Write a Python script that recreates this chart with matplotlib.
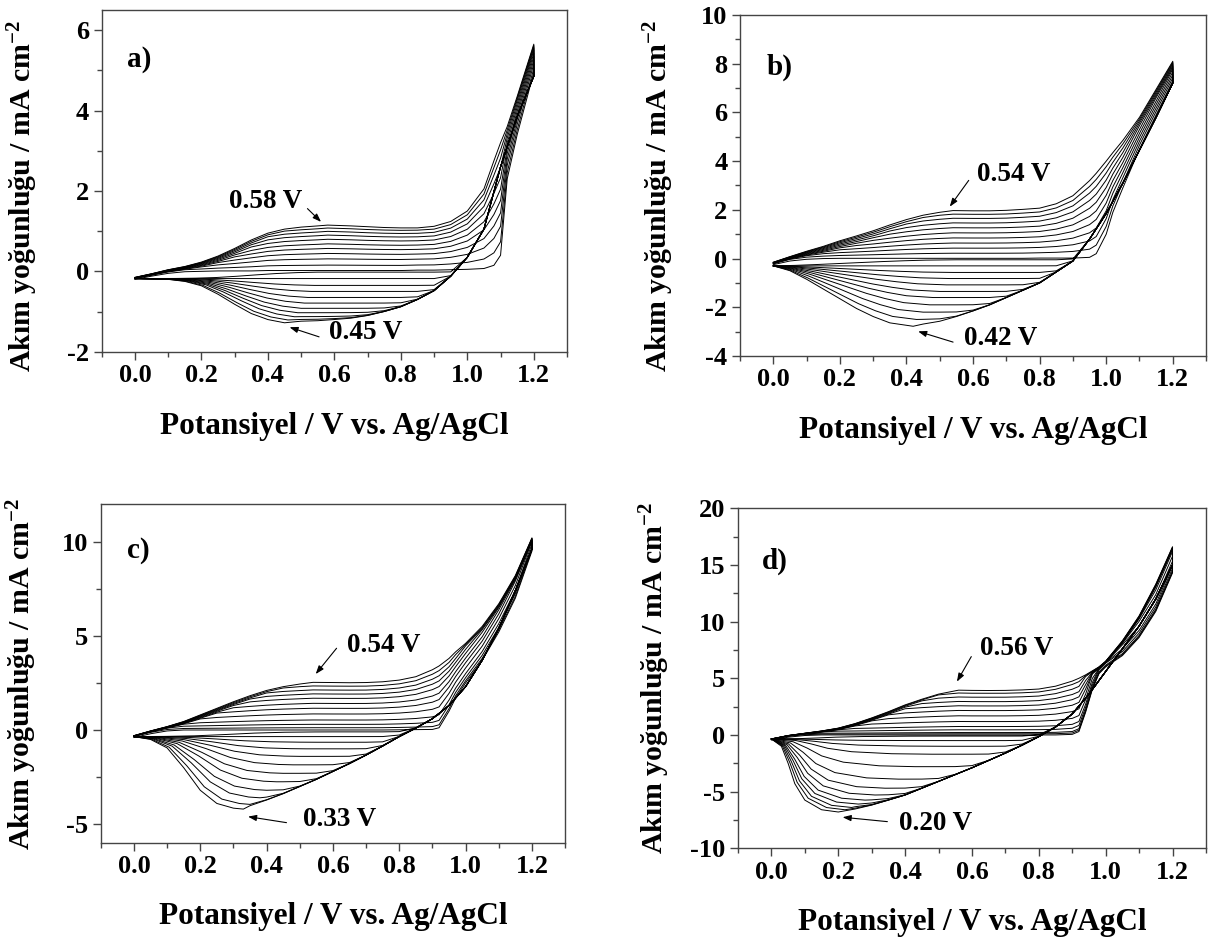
import numpy as np
import matplotlib
matplotlib.use("Agg")
import matplotlib.pyplot as plt
from matplotlib.ticker import MultipleLocator, FormatStrFormatter

plt.rcParams['font.family'] = ['Liberation Serif', 'DejaVu Serif']
plt.rcParams['font.weight'] = 'bold'
plt.rcParams['axes.unicode_minus'] = False
plt.rcParams['mathtext.fontset'] = 'custom'
plt.rcParams['mathtext.rm'] = 'Liberation Serif:bold'
plt.rcParams['mathtext.default'] = 'rm'

# ---- a) ----
# outer anodic sweep, first anodic sweep (same potentials)
e_fwd_a = [0.00, 0.05, 0.10, 0.15, 0.20, 0.25, 0.30, 0.35, 0.40, 0.45, 0.50, 0.55, 0.58, 0.65,
           0.70, 0.75, 0.80, 0.85, 0.90, 0.95, 1.00, 1.05, 1.08, 1.10, 1.12, 1.15, 1.20]
i_fwd_a = [-0.15, -0.06, 0.04, 0.12, 0.23, 0.38, 0.57, 0.78, 0.95, 1.05, 1.10, 1.13, 1.15, 1.13,
           1.11, 1.09, 1.08, 1.08, 1.12, 1.24, 1.50, 2.05, 2.75, 3.20, 3.60, 4.35, 5.65]
i_fwd0_a = [-0.20, -0.12, -0.05, -0.01, 0.00, 0.01, 0.01, 0.01, 0.02, 0.02, 0.02, 0.02, 0.02, 0.02,
            0.02, 0.02, 0.02, 0.03, 0.03, 0.04, 0.05, 0.07, 0.15, 0.40, 2.30, 3.40, 4.95]
# outer cathodic sweep
e_rev_a = [1.20, 1.15, 1.10, 1.05, 1.00, 0.95, 0.90, 0.85, 0.80, 0.75, 0.70, 0.65, 0.60,
           0.55, 0.50, 0.45, 0.40, 0.35, 0.30, 0.25, 0.20, 0.15, 0.10, 0.05, 0.00]
i_rev_a = [4.85, 3.85, 2.60, 1.05, 0.35, -0.12, -0.48, -0.70, -0.88, -1.00, -1.10, -1.17, -1.21,
           -1.25, -1.27, -1.28, -1.20, -1.05, -0.82, -0.57, -0.36, -0.25, -0.20, -0.19, -0.18]
# per scan: plateau current near 0.7 V, cathodic peak current and potential
ox_a = [0.02, 0.15, 0.30, 0.43, 0.55, 0.66, 0.77, 0.87, 0.96, 1.04, 1.11]
red_a = [-0.02, -0.18, -0.35, -0.50, -0.65, -0.79, -0.92, -1.03, -1.13, -1.21, -1.28]
red_e_a = [0.55, 0.55, 0.54, 0.53, 0.52, 0.51, 0.50, 0.49, 0.48, 0.46, 0.45]
ox_peak_a = 0.58

# ---- b) ----
e_fwd_b = [0.00, 0.05, 0.10, 0.15, 0.20, 0.25, 0.30, 0.35, 0.40, 0.45, 0.50, 0.54, 0.60, 0.65,
           0.70, 0.75, 0.80, 0.85, 0.90, 0.95, 0.97, 1.00, 1.02, 1.05, 1.10, 1.15, 1.20]
i_fwd_b = [-0.15, 0.08, 0.30, 0.50, 0.73, 0.93, 1.14, 1.38, 1.60, 1.78, 1.90, 1.97, 1.96, 1.96,
           1.98, 2.02, 2.07, 2.25, 2.58, 3.20, 3.50, 4.00, 4.35, 4.85, 5.80, 6.95, 8.10]
i_fwd0_b = [-0.25, -0.10, -0.03, 0.00, 0.01, 0.01, 0.01, 0.01, 0.01, 0.01, 0.01, 0.01, 0.01, 0.01,
            0.01, 0.01, 0.02, 0.02, 0.02, 0.05, 0.20, 1.00, 1.90, 2.90, 4.50, 5.90, 7.30]
e_rev_b = [1.20, 1.15, 1.10, 1.05, 1.00, 0.95, 0.90, 0.85, 0.80, 0.75, 0.70, 0.65, 0.60,
           0.55, 0.50, 0.45, 0.42, 0.35, 0.30, 0.25, 0.20, 0.15, 0.10, 0.05, 0.00]
i_rev_b = [7.20, 5.80, 4.45, 3.10, 1.85, 0.80, -0.10, -0.55, -1.00, -1.30, -1.60, -1.90, -2.15,
           -2.38, -2.58, -2.72, -2.78, -2.64, -2.38, -2.05, -1.65, -1.25, -0.85, -0.50, -0.30]
ox_b = [0.01, 0.22, 0.43, 0.64, 0.85, 1.06, 1.27, 1.47, 1.66, 1.83, 1.98]
red_b = [-0.05, -0.30, -0.57, -0.82, -1.08, -1.35, -1.60, -1.90, -2.20, -2.50, -2.78]
red_e_b = [0.55, 0.55, 0.54, 0.53, 0.52, 0.50, 0.48, 0.47, 0.45, 0.43, 0.42]
ox_peak_b = 0.54

# ---- c) ----
e_fwd_c = [0.00, 0.05, 0.10, 0.15, 0.20, 0.25, 0.30, 0.35, 0.40, 0.45, 0.50, 0.54, 0.60, 0.65,
           0.70, 0.75, 0.80, 0.85, 0.90, 0.92, 0.95, 0.97, 1.00, 1.05, 1.10, 1.15, 1.20]
i_fwd_c = [-0.30, -0.05, 0.18, 0.45, 0.80, 1.15, 1.50, 1.82, 2.10, 2.30, 2.44, 2.53, 2.52, 2.51,
           2.52, 2.56, 2.65, 2.83, 3.20, 3.40, 3.80, 4.15, 4.60, 5.50, 6.70, 8.20, 10.20]
i_fwd0_c = [-0.40, -0.20, -0.05, 0.00, 0.00, 0.00, 0.00, 0.00, 0.00, 0.00, 0.00, 0.00, 0.00, 0.00,
            0.00, 0.00, 0.01, 0.02, 0.03, 0.12, 1.00, 1.70, 2.50, 3.70, 5.20, 7.00, 9.50]
e_rev_c = [1.20, 1.15, 1.10, 1.05, 1.00, 0.95, 0.90, 0.85, 0.80, 0.75, 0.70, 0.65, 0.60,
           0.55, 0.50, 0.45, 0.40, 0.35, 0.33, 0.30, 0.25, 0.20, 0.15, 0.10, 0.05, 0.00]
i_rev_c = [9.60, 7.40, 5.40, 3.70, 2.30, 1.30, 0.60, 0.10, -0.35, -0.85, -1.33, -1.78, -2.20,
           -2.62, -3.00, -3.38, -3.72, -4.05, -4.20, -4.15, -3.90, -3.20, -2.00, -0.95, -0.50, -0.35]
ox_c = [0.00, 0.12, 0.30, 0.53, 0.85, 1.15, 1.41, 1.68, 1.91, 2.12, 2.33, 2.52]
red_c = [-0.10, -0.35, -0.65, -1.00, -1.40, -1.85, -2.30, -2.75, -3.20, -3.60, -3.95, -4.20]
red_e_c = [0.60, 0.58, 0.55, 0.52, 0.50, 0.48, 0.45, 0.43, 0.40, 0.38, 0.35, 0.33]
ox_peak_c = 0.54

# ---- d) ----
e_fwd_d = [0.00, 0.05, 0.10, 0.15, 0.20, 0.25, 0.30, 0.35, 0.40, 0.45, 0.50, 0.56, 0.60, 0.65,
           0.70, 0.75, 0.80, 0.85, 0.90, 0.92, 0.94, 0.96, 0.98, 1.00, 1.05, 1.10, 1.15, 1.20]
i_fwd_d = [-0.35, -0.05, 0.15, 0.35, 0.60, 1.00, 1.50, 2.05, 2.65, 3.15, 3.60, 3.95, 3.93, 3.92,
           3.93, 3.97, 4.05, 4.30, 4.75, 5.00, 5.30, 5.65, 6.00, 6.50, 8.30, 10.50, 13.30, 16.60]
i_fwd0_d = [-0.45, -0.20, -0.05, 0.00, 0.00, 0.00, 0.00, 0.00, 0.00, 0.00, 0.00, 0.00, 0.00, 0.00,
            0.00, 0.00, 0.00, 0.00, 0.05, 0.30, 2.00, 4.00, 5.40, 6.00, 7.00, 8.60, 10.90, 14.30]
e_rev_d = [1.20, 1.15, 1.10, 1.05, 1.00, 0.95, 0.90, 0.85, 0.80, 0.75, 0.70, 0.65, 0.60, 0.55,
           0.50, 0.45, 0.40, 0.35, 0.30, 0.25, 0.20, 0.15, 0.10, 0.07, 0.05, 0.03, 0.00]
i_rev_d = [15.00, 12.00, 9.60, 7.60, 5.60, 3.60, 1.85, 0.70, -0.15, -0.90, -1.60, -2.25, -2.90, -3.50,
           -4.10, -4.70, -5.30, -5.75, -6.20, -6.60, -6.80, -6.60, -5.75, -4.30, -2.50, -1.00, -0.35]
ox_d = [0.00, 0.10, 0.21, 0.45, 0.74, 1.18, 1.68, 2.15, 2.56, 2.94, 3.33, 3.68, 3.93]
red_d = [-0.10, -0.50, -1.00, -1.70, -2.80, -3.90, -4.70, -5.30, -5.75, -6.10, -6.40, -6.60, -6.80]
red_e_d = [0.55, 0.55, 0.52, 0.48, 0.43, 0.38, 0.34, 0.31, 0.28, 0.26, 0.24, 0.22, 0.20]
ox_peak_d = 0.56

x_ticks = [0.0, 0.2, 0.4, 0.6, 0.8, 1.0, 1.2]


def scan_loop(p, k):
    """Closed loop of scan k: anodic sweep 0 -> 1.2 V, then cathodic back to 0 V."""
    e_f = np.array(p['e_fwd'])
    i_last = np.array(p['i_fwd'])
    i_first = np.array(p['i_fwd0'])
    ox = p['ox']
    diff = np.clip(i_last - i_first, 0, None)
    span = ox[-1] - ox[0]
    gain = ox[k] - ox[0]
    fan = diff * gain / span
    follow = np.where(diff <= span, np.minimum(diff, gain), fan)
    y_f = i_first + (1 - p['alpha']) * fan + p['alpha'] * follow

    e_r = np.array(p['e_rev'])
    i_r = np.array(p['i_rev'])
    red, red_e = p['red'], p['red_e']
    ep0, ip0 = red_e[-1], red[-1]
    base = i_r[-1]
    s = p['soft']
    right = e_r > red_e[k]
    y_right = s * np.logaddexp(i_r[right] / s, red[k] / s)
    left = e_r <= ep0
    x_left = e_r[left] * red_e[k] / ep0
    y_left = base + (i_r[left] - base) * (red[k] - base) / (ip0 - base)

    x = np.concatenate([e_f, e_r[right], x_left])
    y = np.concatenate([y_f, y_right, y_left])
    return x, y


panels = [
    dict(tag='a)', pos=[0.0842, 0.6274, 0.3852, 0.3620], ylim=(-2, 6.5), major=2, minor=1,
         e_fwd=e_fwd_a, i_fwd=i_fwd_a, i_fwd0=i_fwd0_a, e_rev=e_rev_a, i_rev=i_rev_a,
         ox=ox_a, red=red_a, red_e=red_e_a, ox_peak=ox_peak_a, alpha=0.3, soft=0.05,
         ylab=(-0.133, 0.456), tagpos=(0.054, 0.855),
         ann_ox=((-0.02, 0.08), (0.519, 1.56), (0.392, 1.73)),
         ann_red=((0.015, -0.11), (0.554, -1.63), (0.695, -1.51))),
    dict(tag='b)', pos=[0.6126, 0.6229, 0.3858, 0.3612], ylim=(-4, 10), major=2, minor=1,
         e_fwd=e_fwd_b, i_fwd=i_fwd_b, i_fwd0=i_fwd0_b, e_rev=e_rev_b, i_rev=i_rev_b,
         ox=ox_b, red=red_b, red_e=red_e_b, ox_peak=ox_peak_b, alpha=0.3, soft=0.08,
         ylab=(-0.137, 0.47), tagpos=(0.056, 0.848),
         ann_ox=((-0.01, 0.16), (0.587, 3.21), (0.723, 3.46)),
         ann_red=((0.015, -0.21), (0.54, -3.43), (0.682, -3.29))),
    dict(tag='c)', pos=[0.0834, 0.1070, 0.3844, 0.3591], ylim=(-6, 12), major=5, minor=2.5,
         e_fwd=e_fwd_c, i_fwd=i_fwd_c, i_fwd0=i_fwd0_c, e_rev=e_rev_c, i_rev=i_rev_c,
         ox=ox_c, red=red_c, red_e=red_e_c, ox_peak=ox_peak_c, alpha=0.6, soft=0.12,
         ylab=(-0.133, 0.5), tagpos=(0.056, 0.864),
         ann_ox=((0.008, 0.44), (0.611, 4.34), (0.752, 4.48)),
         ann_red=((0.014, -0.4), (0.46, -4.92), (0.62, -4.73))),
    dict(tag='d)', pos=[0.6109, 0.1014, 0.3874, 0.3602], ylim=(-10, 20), major=5, minor=2.5,
         e_fwd=e_fwd_d, i_fwd=i_fwd_d, i_fwd0=i_fwd0_d, e_rev=e_rev_d, i_rev=i_rev_d,
         ox=ox_d, red=red_d, red_e=red_e_d, ox_peak=ox_peak_d, alpha=0.7, soft=0.2,
         ylab=(-0.141, 0.5), tagpos=(0.052, 0.844),
         ann_ox=((-0.005, 0.75), (0.598, 6.91), (0.735, 7.59)),
         ann_red=((0.013, -0.46), (0.347, -7.65), (0.49, -7.85))),
]

fig = plt.figure(figsize=(12.08, 9.44), dpi=100)

for p in panels:
    ax = fig.add_axes(p['pos'])
    for k in range(len(p['ox'])):
        x, y = scan_loop(p, k)
        ax.plot(x, y, color='k', lw=0.7)

    ax.set_xlim(-0.1, 1.3)
    ax.set_ylim(*p['ylim'])
    ax.set_xticks(x_ticks)
    ax.xaxis.set_minor_locator(MultipleLocator(0.1))
    ax.xaxis.set_major_formatter(FormatStrFormatter('%.1f'))
    ax.yaxis.set_major_locator(MultipleLocator(p['major']))
    ax.yaxis.set_minor_locator(MultipleLocator(p['minor']))
    ax.tick_params(which='both', direction='out', top=False, right=False,
                   color='#444444', width=1.0)
    ax.tick_params(which='major', length=6, labelsize=19, pad=3)
    ax.tick_params(which='minor', length=3.5)
    for sp in ax.spines.values():
        sp.set_color('#444444')
        sp.set_linewidth(1.0)

    ax.set_xlabel('Potansiyel / V vs. Ag/AgCl', fontsize=22.5, fontweight='bold')
    ax.xaxis.set_label_coords(0.5, -0.175)
    ax.set_ylabel('Akım yoğunluğu / mA cm$^{-2}$', fontsize=21.5, fontweight='bold')
    ax.yaxis.set_label_coords(*p['ylab'])
    ax.text(p['tagpos'][0], p['tagpos'][1], p['tag'], transform=ax.transAxes,
            fontsize=21, fontweight='bold', va='center', ha='left')

    # peak potentials with arrows
    e_f = list(p['e_fwd'])
    ox_e = p['ox_peak']
    ox_i = p['i_fwd'][e_f.index(ox_e)]
    red_e = p['red_e'][-1]
    red_i = p['red'][-1]
    for (pe, pi), (off, tail, txt) in (((ox_e, ox_i), p['ann_ox']),
                                         ((red_e, red_i), p['ann_red'])):
        ax.text(txt[0], txt[1], f'{pe:.2f} V', fontsize=19.5, fontweight='bold',
                ha='center', va='center')
        ax.annotate('', xy=(pe + off[0], pi + off[1]), xytext=tail,
                    arrowprops=dict(arrowstyle='-|>,head_length=0.5,head_width=0.18',
                                    color='k', lw=0.8, shrinkA=0, shrinkB=0))

fig.savefig('out.png', dpi=100)
